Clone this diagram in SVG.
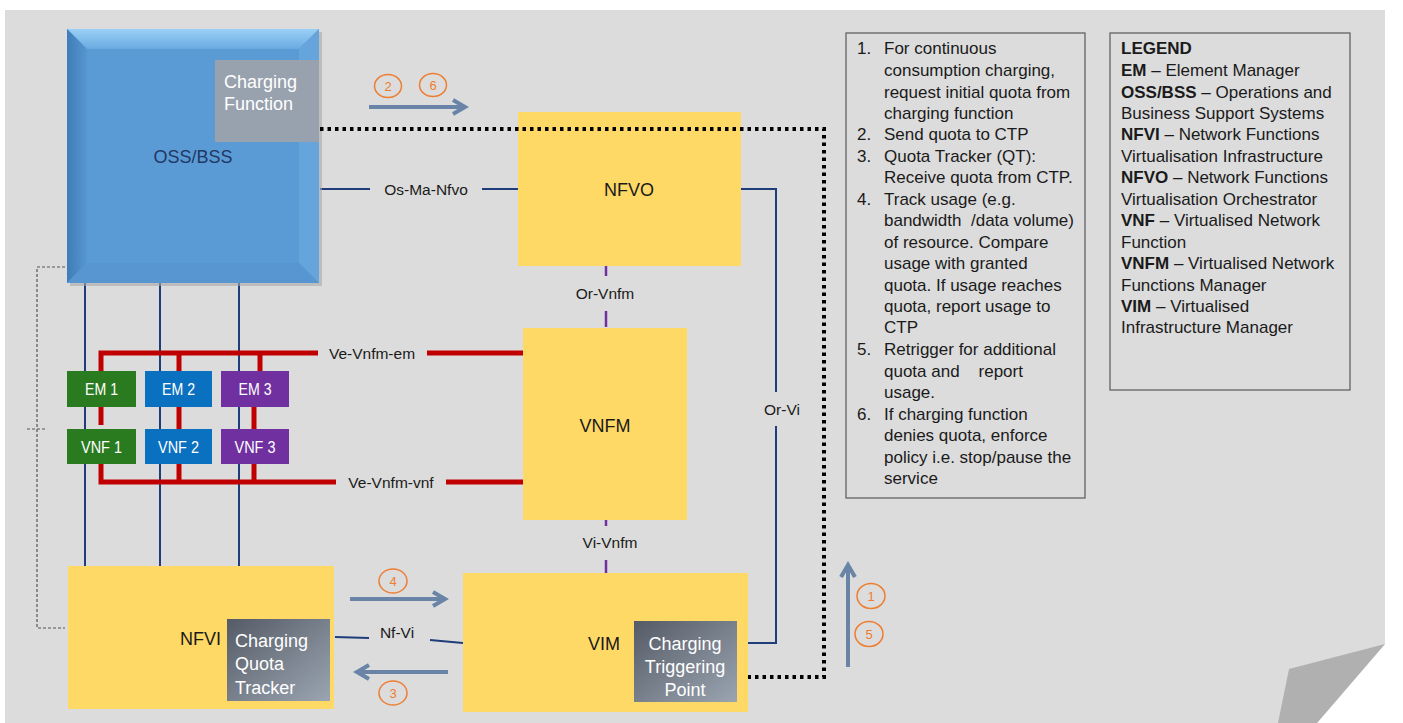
<svg xmlns="http://www.w3.org/2000/svg" width="1403" height="723" viewBox="0 0 1403 723">
<style>
text{font-family:"Liberation Sans",Arial,sans-serif;fill:#1a1a1a}
.yel{fill:#ffd966}
.lbl{font-size:15.5px}
.big{font-size:18px}
.wt{fill:#ffffff}
.em{font-size:17px;fill:#ffffff}
.navy{stroke:#1f3d7a;stroke-width:2;fill:none}
.red{stroke:#c00000;stroke-width:5;fill:none}
.pur{stroke:#7030a0;stroke-width:2.5;fill:none}
.flow{stroke:#6a84a8;stroke-width:4;fill:none;marker-end:url(#chev)}
.dot{stroke:#000;stroke-width:4;fill:none;stroke-dasharray:3.5 4}
.thin{stroke:#555;stroke-width:1.2;fill:none;stroke-dasharray:3 2}
.circ{fill:none;stroke:#ed7d31;stroke-width:1.5}
.num{font-size:13px;fill:#ed7d31;text-anchor:middle}
.box{fill:none;stroke:#595959;stroke-width:1.2}
.txt{font-size:17px}
.mid{text-anchor:middle}
.end{text-anchor:end}
</style>
<defs>
<marker id="chev" markerUnits="userSpaceOnUse" markerWidth="22" markerHeight="22" viewBox="0 0 22 22" refX="17" refY="11" orient="auto">
<path d="M5,4 L17,11 L5,18" fill="none" stroke="#6a84a8" stroke-width="4" stroke-linejoin="miter"/>
</marker>
<linearGradient id="gbox" x1="0" y1="0" x2="1" y2="1">
<stop offset="0" stop-color="#555b66"/>
<stop offset="1" stop-color="#9aa5b1"/>
</linearGradient>
<linearGradient id="gtop" x1="0" y1="0" x2="0" y2="1">
<stop offset="0" stop-color="#9ad0f7"/>
<stop offset="1" stop-color="#6aaae0"/>
</linearGradient>
<linearGradient id="gleft" x1="0" y1="0" x2="1" y2="0">
<stop offset="0" stop-color="#3f7dba"/>
<stop offset="1" stop-color="#5896d0"/>
</linearGradient>
</defs>

<!-- page -->
<rect x="0" y="0" width="1403" height="723" fill="#ffffff"/>
<polygon points="5,10 1385,10 1385,644 1317,723 5,723" fill="#dcdcdc"/>
<polygon points="1385,644 1289,669 1278,723 1317,723" fill="#b0b0b0"/>

<!-- connectors (behind nodes) -->
<g id="connectors">
<path class="navy" d="M85,283 V566 M160,283 V566 M239,283 V566"/>
<path class="red" d="M101,379 V353 H318 M427,353 H523 M179,353 V371 M260,353 V371"/>
<path class="red" d="M101,406 V425 M179,406 V429 M254,406 V429"/>
<path class="red" d="M101,464 V482 H336 M446,482 H523 M179,464 V482 M254,464 V482"/>
<path class="navy" d="M320,189 H370 M482,189 H518"/>
<text class="lbl mid" x="426" y="194.5">Os-Ma-Nfvo</text>
<path class="pur" d="M606,266 V276 M606,311 V327"/>
<text class="lbl mid" x="605" y="298.5">Or-Vnfm</text>
<path class="pur" d="M606,520 V526 M606,560 V573"/>
<text class="lbl mid" x="610" y="547.5">Vi-Vnfm</text>
<path class="navy" d="M741,189 H776 V392 M776,426 V643 H748"/>
<text class="lbl mid" x="782" y="414.5">Or-Vi</text>
<path class="navy" d="M335,637 L369,638 M430,640 L463,643"/>
<text class="lbl mid" x="397" y="637.5">Nf-Vi</text>
<text class="lbl mid" x="372" y="358.5">Ve-Vnfm-em</text>
<text class="lbl mid" x="391" y="487.5">Ve-Vnfm-vnf</text>
<path class="thin" d="M65,267 H37 V628 H65 M27,429 H45"/>
<path class="flow" d="M369,107 H465"/>
<path class="flow" d="M350,599 H445"/>
<path class="flow" d="M448,672 H357"/>
<path class="flow" d="M848,667 V565"/>
<ellipse class="circ" cx="388" cy="86" rx="13.5" ry="11.5"/><text class="num" x="388" y="90.5">2</text>
<ellipse class="circ" cx="433" cy="85" rx="13.5" ry="11.5"/><text class="num" x="433" y="89.5">6</text>
<ellipse class="circ" cx="393" cy="581" rx="14" ry="12"/><text class="num" x="393" y="585.5">4</text>
<ellipse class="circ" cx="393" cy="693" rx="14" ry="12"/><text class="num" x="393" y="697.5">3</text>
<ellipse class="circ" cx="871" cy="596" rx="14" ry="12.5"/><text class="num" x="871" y="600.5">1</text>
<ellipse class="circ" cx="869" cy="634" rx="14" ry="12.5"/><text class="num" x="869" y="638.5">5</text>
</g>

<!-- OSS/BSS -->
<g id="oss">
<rect x="70" y="32" width="252" height="254" fill="#a9a9a9" opacity="0.6"/>
<rect x="67" y="29" width="252" height="254" fill="#5b9bd5"/>
<polygon points="67,29 319,29 299,49 87,49" fill="url(#gtop)"/>
<polygon points="67,29 87,49 87,263 67,283" fill="url(#gleft)"/>
<polygon points="319,29 319,283 299,263 299,49" fill="#66a5dc"/>
<polygon points="67,283 319,283 299,263 87,263" fill="#5796d0"/>
<rect x="215" y="60" width="104" height="82" fill="#98a2ae"/>
<text class="big wt" x="224" y="88">Charging</text>
<text class="big wt" x="224" y="110">Function</text>
<text class="big mid" x="193" y="162.5" style="fill:#1f3864">OSS/BSS</text>
</g>

<g id="nfvo">
<rect class="yel" x="518" y="112" width="223" height="154"/>
<text class="big mid" x="629" y="195.5">NFVO</text>
</g>

<g id="vnfm">
<rect class="yel" x="523" y="328" width="164" height="192"/>
<text class="big mid" x="605" y="431.5">VNFM</text>
</g>

<g id="nfvi">
<rect class="yel" x="68" y="566" width="266" height="143"/>
<text class="big end" x="221" y="644.5">NFVI</text>
<rect x="227" y="619" width="103" height="82" fill="url(#gbox)"/>
<text class="big wt" x="235" y="646.5">Charging</text>
<text class="big wt" x="235" y="670">Quota</text>
<text class="big wt" x="235" y="693.5">Tracker</text>
</g>

<g id="vim">
<rect class="yel" x="463" y="573" width="285" height="139"/>
<text class="big end" x="620" y="649.5">VIM</text>
<rect x="634" y="621" width="103" height="81" fill="url(#gbox)"/>
<text class="big wt mid" x="685" y="649.5">Charging</text>
<text class="big wt mid" x="685" y="672.5">Triggering</text>
<text class="big wt mid" x="685" y="695.5">Point</text>
</g>

<g id="em1"><rect x="67" y="371" width="69" height="36" fill="#2a7a1f"/><text class="em mid" x="101.5" y="395" textLength="33" lengthAdjust="spacingAndGlyphs">EM 1</text></g>
<g id="em2"><rect x="145" y="371" width="67" height="36" fill="#0a70c0"/><text class="em mid" x="178.5" y="395" textLength="33" lengthAdjust="spacingAndGlyphs">EM 2</text></g>
<g id="em3"><rect x="221" y="371" width="68" height="36" fill="#7030a0"/><text class="em mid" x="255" y="395" textLength="33" lengthAdjust="spacingAndGlyphs">EM 3</text></g>
<g id="vnf1"><rect x="67" y="429" width="69" height="35" fill="#2a7a1f"/><text class="em mid" x="101.5" y="453" textLength="41" lengthAdjust="spacingAndGlyphs">VNF 1</text></g>
<g id="vnf2"><rect x="145" y="429" width="67" height="35" fill="#0a70c0"/><text class="em mid" x="178.5" y="453" textLength="41" lengthAdjust="spacingAndGlyphs">VNF 2</text></g>
<g id="vnf3"><rect x="221" y="429" width="68" height="35" fill="#7030a0"/><text class="em mid" x="255" y="453" textLength="41" lengthAdjust="spacingAndGlyphs">VNF 3</text></g>

<!-- connectors drawn over nodes -->
<g id="connectors-top">
<path class="dot" d="M320,129 H824 V677 H748"/>
</g>

<g id="steps">
<rect class="box" x="846" y="33" width="239" height="465"/>
<text class="txt" x="857" y="54">1.</text><text class="txt" x="884" y="54">For continuous</text>
<text class="txt" x="884" y="76">consumption charging,</text>
<text class="txt" x="884" y="97.5">request initial quota from</text>
<text class="txt" x="884" y="119">charging function</text>
<text class="txt" x="857" y="140">2.</text><text class="txt" x="884" y="140">Send quota to CTP</text>
<text class="txt" x="857" y="161.5">3.</text><text class="txt" x="884" y="161.5">Quota Tracker (QT):</text>
<text class="txt" x="884" y="182.5">Receive quota from CTP.</text>
<text class="txt" x="857" y="205">4.</text><text class="txt" x="884" y="205">Track usage (e.g.</text>
<text class="txt" x="884" y="226" xml:space="preserve">bandwidth  /data volume)</text>
<text class="txt" x="884" y="247.5">of resource. Compare</text>
<text class="txt" x="884" y="268.5">usage with granted</text>
<text class="txt" x="884" y="291">quota. If usage reaches</text>
<text class="txt" x="884" y="312">quota, report usage to</text>
<text class="txt" x="884" y="333">CTP</text>
<text class="txt" x="857" y="355">5.</text><text class="txt" x="884" y="355">Retrigger for additional</text>
<text class="txt" x="884" y="376.5" xml:space="preserve">quota and    report</text>
<text class="txt" x="884" y="398">usage.</text>
<text class="txt" x="857" y="420">6.</text><text class="txt" x="884" y="420">If charging function</text>
<text class="txt" x="884" y="441">denies quota, enforce</text>
<text class="txt" x="884" y="462.5">policy i.e. stop/pause the</text>
<text class="txt" x="884" y="484">service</text>
</g>

<g id="legend">
<rect class="box" x="1110" y="33" width="240" height="357"/>
<text class="txt" x="1121" y="54" font-weight="bold">LEGEND</text>
<text class="txt" x="1121" y="76"><tspan font-weight="bold">EM</tspan> – Element Manager</text>
<text class="txt" x="1121" y="97.5"><tspan font-weight="bold">OSS/BSS</tspan> – Operations and</text>
<text class="txt" x="1121" y="119">Business Support Systems</text>
<text class="txt" x="1121" y="140"><tspan font-weight="bold">NFVI</tspan> – Network Functions</text>
<text class="txt" x="1121" y="161.5">Virtualisation Infrastructure</text>
<text class="txt" x="1121" y="182.5"><tspan font-weight="bold">NFVO</tspan> – Network Functions</text>
<text class="txt" x="1121" y="205">Virtualisation Orchestrator</text>
<text class="txt" x="1121" y="226"><tspan font-weight="bold">VNF</tspan> – Virtualised Network</text>
<text class="txt" x="1121" y="247.5">Function</text>
<text class="txt" x="1121" y="268.5"><tspan font-weight="bold">VNFM</tspan> – Virtualised Network</text>
<text class="txt" x="1121" y="291">Functions Manager</text>
<text class="txt" x="1121" y="312"><tspan font-weight="bold">VIM</tspan> – Virtualised</text>
<text class="txt" x="1121" y="333">Infrastructure Manager</text>
</g>
</svg>
